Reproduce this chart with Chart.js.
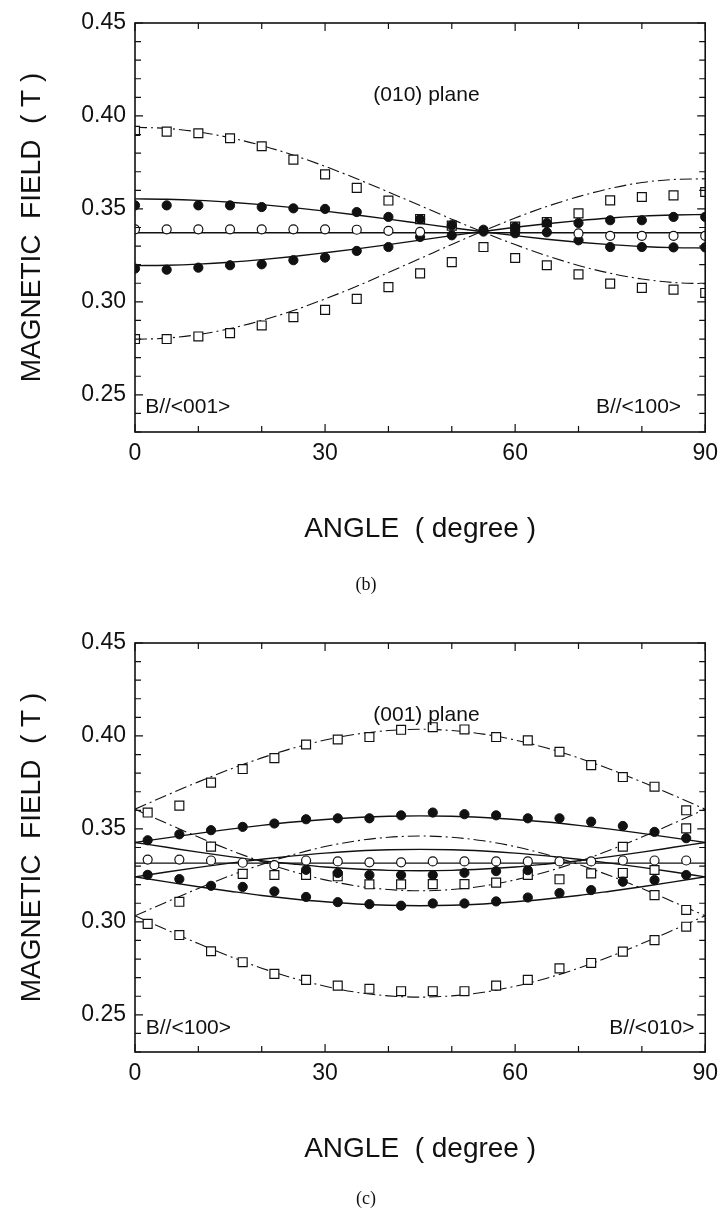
<!DOCTYPE html>
<html>
<head>
<meta charset="utf-8">
<script src="https://cdn.jsdelivr.net/npm/chart.js@4.4.0/dist/chart.umd.min.js"></script>
<style>
  body { margin: 0; background: #fff; width: 726px; height: 1211px; overflow: hidden; position: relative; }
  .panel { position: absolute; left: 0; width: 726px; height: 620px; }
  .cap { position: absolute; width: 60px; margin-left: -30px; text-align: center;
         font-family: "Liberation Serif", "DejaVu Serif", serif; font-size: 18px; color: #111; }
</style>
</head>
<body>
<div class="panel" style="top:0"><canvas id="chartB" width="726" height="620"></canvas></div>
<div class="panel" style="top:620px"><canvas id="chartC" width="726" height="620"></canvas></div>
<div class="cap" style="left:366px; top:574px">(b)</div>
<div class="cap" style="left:366px; top:1188px">(c)</div>
<script>
// ---------- shared axes ----------
const xTicks = [0, 30, 60, 90];
const yTicks = [0.25, 0.30, 0.35, 0.40, 0.45];

// ---------- (b) (010) plane: measured points every 5 deg ----------
const bAngles = [0, 5, 10, 15, 20, 25, 30, 35, 40, 45, 50, 55, 60, 65, 70, 75, 80, 85, 90];
const bSquaresA = [0.3920, 0.3916, 0.3907, 0.3880, 0.3837, 0.3765, 0.3686, 0.3613, 0.3545, 0.3445,
                   0.3410, null, 0.3236, 0.3197, 0.3148, 0.3098, 0.3075, 0.3066, 0.3048];
const bSquaresB = [0.2800, 0.2800, 0.2814, 0.2832, 0.2873, 0.2918, 0.2957, 0.3016, 0.3079, 0.3153,
                   0.3214, 0.3295, 0.3405, 0.3429, 0.3476, 0.3546, 0.3564, 0.3573, 0.3591];
const bFilledHigh = [0.3519, 0.3519, 0.3519, 0.3519, 0.3510, 0.3503, 0.3500, 0.3483, 0.3457, 0.3444,
                     0.3412, 0.3388, 0.3403, 0.3424, 0.3424, 0.3439, 0.3439, 0.3457, 0.3457];
const bFilledLow = [0.3179, 0.3173, 0.3184, 0.3197, 0.3202, 0.3224, 0.3238, 0.3274, 0.3295, 0.3349,
                    0.3358, 0.3378, 0.3369, 0.3374, 0.3331, 0.3295, 0.3295, 0.3293, 0.3293];
const bOpen = [0.3390, 0.3390, 0.3390, 0.3390, 0.3390, 0.3390, 0.3390, 0.3388, 0.3382, 0.3376,
               null, null, null, null, 0.3368, 0.3355, 0.3355, 0.3355, 0.3355];

// (b) fitted curves, read every 5 deg
const bCurveAngles = bAngles;
const bDashA = [0.3939, 0.3933, 0.3914, 0.3883, 0.3841, 0.3789, 0.3729, 0.3662, 0.3591, 0.3518,
                0.3445, 0.3374, 0.3308, 0.3248, 0.3196, 0.3154, 0.3123, 0.3104, 0.3098];
const bDashB = [0.2798, 0.2805, 0.2824, 0.2856, 0.2900, 0.2953, 0.3016, 0.3084, 0.3158, 0.3233,
                0.3309, 0.3382, 0.3451, 0.3513, 0.3566, 0.3610, 0.3642, 0.3658, 0.3662];
const bSolidA = [0.3554, 0.3552, 0.3546, 0.3536, 0.3523, 0.3507, 0.3488, 0.3467, 0.3445, 0.3422,
                 0.3399, 0.3377, 0.3356, 0.3337, 0.3321, 0.3308, 0.3298, 0.3292, 0.3290];
const bSolidB = [0.3195, 0.3197, 0.3203, 0.3213, 0.3227, 0.3244, 0.3264, 0.3285, 0.3308, 0.3332,
                 0.3356, 0.3379, 0.3401, 0.3420, 0.3437, 0.3451, 0.3461, 0.3467, 0.3470];
const bFlatAngles = [0, 90];
const bFlat = [0.3372, 0.3372];

// ---------- (c) (001) plane: measured points every 5 deg from 2 deg ----------
const cAngles = [2, 7, 12, 17, 22, 27, 32, 37, 42, 47, 52, 57, 62, 67, 72, 77, 82, 87];
const cSquaresUpper = [0.3588, 0.3625, 0.3749, 0.3822, 0.3881, 0.3954, 0.3981, 0.3994, 0.4033,
                       0.4047, 0.4035, 0.3994, 0.3976, 0.3915, 0.3843, 0.3779, 0.3727, 0.3600];
const cSquaresLower = [0.2989, 0.2929, 0.2842, 0.2783, 0.2720, 0.2688, 0.2657, 0.2640, 0.2627,
                       0.2627, 0.2627, 0.2657, 0.2688, 0.2750, 0.2779, 0.2840, 0.2902, 0.2974];
const cSquaresMid = [null, 0.3108, 0.3405, 0.3258, 0.3252, 0.3252, 0.3245, 0.3202, 0.3202,
                     0.3203, 0.3203, 0.3211, 0.3252, 0.3229, 0.3261, 0.3263, 0.3279, null];
const cSquaresExtraAngles = [77, 82, 87, 87];
const cSquaresExtra = [0.3404, 0.3144, 0.3503, 0.3064];
const cFilledUpper = [0.3439, 0.3471, 0.3493, 0.3511, 0.3529, 0.3552, 0.3557, 0.3557, 0.3573,
                      0.3588, 0.3579, 0.3573, 0.3557, 0.3557, 0.3539, 0.3516, 0.3484, 0.3450];
const cFilledLower = [0.3253, 0.3230, 0.3194, 0.3188, 0.3164, 0.3134, 0.3106, 0.3095, 0.3087,
                      0.3099, 0.3099, 0.3110, 0.3131, 0.3155, 0.3171, 0.3216, 0.3225, 0.3252];
const cFilledMid = [null, null, null, null, null, 0.3280, 0.3263, 0.3252, 0.3252,
                    0.3252, 0.3264, 0.3273, 0.3278, null, null, null, null, null];
const cOpen = [0.3335, 0.3335, 0.3330, 0.3318, 0.3305, 0.3330, 0.3325, 0.3320, 0.3320,
               0.3325, 0.3325, 0.3325, 0.3325, 0.3325, 0.3325, 0.3330, 0.3330, 0.3330];

// (c) fitted curves, read every 5 deg
const cCurveAngles = [0, 5, 10, 15, 20, 25, 30, 35, 40, 45, 50, 55, 60, 65, 70, 75, 80, 85, 90];
const cDashUpper = [0.3606, 0.3681, 0.3753, 0.3821, 0.3882, 0.3935, 0.3978, 0.4010, 0.4029, 0.4036,
                    0.4029, 0.4010, 0.3978, 0.3935, 0.3882, 0.3821, 0.3753, 0.3681, 0.3606];
const cDashLower = [0.3033, 0.2957, 0.2883, 0.2814, 0.2751, 0.2697, 0.2654, 0.2621, 0.2602, 0.2595,
                    0.2602, 0.2621, 0.2654, 0.2697, 0.2751, 0.2814, 0.2883, 0.2957, 0.3033];
const cDashInnerDown = [0.3606, 0.3530, 0.3456, 0.3386, 0.3324, 0.3270, 0.3226, 0.3193, 0.3174, 0.3167,
                        0.3174, 0.3193, 0.3226, 0.3270, 0.3324, 0.3386, 0.3456, 0.3530, 0.3606];
const cDashInnerUp = [0.3033, 0.3107, 0.3180, 0.3248, 0.3309, 0.3362, 0.3405, 0.3436, 0.3455, 0.3462,
                      0.3455, 0.3436, 0.3405, 0.3362, 0.3309, 0.3248, 0.3180, 0.3107, 0.3033];
const cSolidUpper = [0.3427, 0.3452, 0.3476, 0.3499, 0.3519, 0.3537, 0.3551, 0.3561, 0.3568, 0.3570,
                     0.3568, 0.3561, 0.3551, 0.3537, 0.3519, 0.3499, 0.3476, 0.3452, 0.3427];
const cSolidLower = [0.3242, 0.3215, 0.3189, 0.3165, 0.3142, 0.3123, 0.3108, 0.3096, 0.3089, 0.3087,
                     0.3089, 0.3096, 0.3108, 0.3123, 0.3142, 0.3165, 0.3189, 0.3215, 0.3242];
const cSolidInnerDown = [0.3427, 0.3401, 0.3375, 0.3351, 0.3329, 0.3311, 0.3295, 0.3284, 0.3277, 0.3275,
                         0.3277, 0.3284, 0.3295, 0.3311, 0.3329, 0.3351, 0.3375, 0.3401, 0.3427];
const cSolidInnerUp = [0.3242, 0.3268, 0.3293, 0.3316, 0.3337, 0.3355, 0.3370, 0.3381, 0.3388, 0.3390,
                       0.3388, 0.3381, 0.3370, 0.3355, 0.3337, 0.3316, 0.3293, 0.3268, 0.3242];
const cFlatAngles = [0, 90];
const cFlat = [0.3316, 0.3316];

// ---------- styles ----------
const INK = "#111";
const SANS = '"Liberation Sans", Arial, sans-serif';

function pts(xs, ys) {
  return xs.map((x, i) => ({ x: x, y: ys[i] })).filter(p => p.y !== null);
}

function curve(xs, ys, dashed) {
  return {
    data: pts(xs, ys),
    showLine: true,
    pointRadius: 0,
    borderColor: INK,
    borderWidth: dashed ? 1.1 : 1.4,
    borderDash: dashed ? [12, 4, 2, 4] : [],
    cubicInterpolationMode: "monotone",
    order: 10
  };
}

function marks(xs, ys, kind) {
  const base = { data: pts(xs, ys), showLine: false, borderColor: INK, clip: 0, order: 1 };
  if (kind === "filled") return Object.assign(base, { pointStyle: "circle", pointRadius: 4.6, backgroundColor: INK, borderWidth: 1 });
  if (kind === "open") return Object.assign(base, { pointStyle: "circle", pointRadius: 4.5, backgroundColor: "#fff", borderWidth: 1.2 });
  return Object.assign(base, { pointStyle: "rect", pointRadius: 6.3, backgroundColor: "#fff", borderWidth: 1.2, order: 2 });
}

// frame, inward ticks and in-plot notes
const framePlugin = {
  id: "frame",
  afterDatasetsDraw(chart, args, opts) {
    const { ctx, chartArea: a, scales: { x, y } } = chart;
    ctx.save();
    ctx.strokeStyle = INK;
    ctx.lineWidth = 1.6;
    ctx.strokeRect(a.left, a.top, a.right - a.left, a.bottom - a.top);
    ctx.lineWidth = 1.2;
    ctx.beginPath();
    for (let v = 0; v <= 90; v += 10) {
      const px = x.getPixelForValue(v);
      const len = v % 30 === 0 ? 8 : 6;
      ctx.moveTo(px, a.bottom); ctx.lineTo(px, a.bottom - len);
      ctx.moveTo(px, a.top); ctx.lineTo(px, a.top + len);
    }
    for (let k = 23; k <= 45; k++) {
      const py = y.getPixelForValue(k / 100);
      const len = k % 5 === 0 ? 8 : 6;
      ctx.moveTo(a.left, py); ctx.lineTo(a.left + len, py);
      ctx.moveTo(a.right, py); ctx.lineTo(a.right - len, py);
    }
    ctx.stroke();
    ctx.fillStyle = INK;
    ctx.textBaseline = "middle";
    opts.notes.forEach(n => {
      ctx.font = n.size + "px " + SANS;
      ctx.textAlign = n.align;
      ctx.fillText(n.text, x.getPixelForValue(n.x), y.getPixelForValue(n.y));
    });
    ctx.restore();
  }
};

function makeChart(id, datasets, notes) {
  return new Chart(document.getElementById(id), {
    type: "scatter",
    data: { datasets: datasets },
    plugins: [framePlugin],
    options: {
      responsive: false,
      animation: false,
      events: [],
      layout: { padding: { top: 23, right: 15, bottom: 0, left: 0 } },
      plugins: { legend: { display: false }, tooltip: { enabled: false }, frame: { notes: notes } },
      scales: {
        x: {
          type: "linear", min: 0, max: 90,
          afterBuildTicks: s => { s.ticks = xTicks.map(v => ({ value: v })); },
          afterFit: s => { s.height = 188; },
          grid: { display: false, drawTicks: false },
          border: { display: false },
          ticks: { autoSkip: false, maxRotation: 0, padding: 8, color: INK, font: { family: SANS, size: 23 } },
          title: { display: true, text: "ANGLE  ( degree )", color: INK,
                   font: { family: SANS, size: 28 }, padding: { top: 0, bottom: 74 } }
        },
        y: {
          type: "linear", min: 0.23, max: 0.45,
          afterBuildTicks: s => { s.ticks = yTicks.map(v => ({ value: v })); },
          afterFit: s => { s.width = 135; },
          grid: { display: false, drawTicks: false },
          border: { display: false },
          ticks: { padding: 9, color: INK, font: { family: SANS, size: 23 }, callback: v => v.toFixed(2) },
          title: { display: true, text: "MAGNETIC  FIELD  ( T )", color: INK,
                   font: { family: SANS, size: 28 }, padding: { top: 15, bottom: 0 } }
        }
      }
    }
  });
}

makeChart("chartB", [
  curve(bCurveAngles, bDashA, true),
  curve(bCurveAngles, bDashB, true),
  curve(bCurveAngles, bSolidA, false),
  curve(bCurveAngles, bSolidB, false),
  curve(bFlatAngles, bFlat, false),
  marks(bAngles, bSquaresA, "square"),
  marks(bAngles, bSquaresB, "square"),
  marks(bAngles, bOpen, "open"),
  marks(bAngles, bFilledHigh, "filled"),
  marks(bAngles, bFilledLow, "filled")
], [
  { text: "(010) plane", x: 46, y: 0.411, align: "center", size: 21 },
  { text: "B//<001>", x: 1.6, y: 0.2435, align: "left", size: 21 },
  { text: "B//<100>", x: 86.2, y: 0.2435, align: "right", size: 21 }
]);

makeChart("chartC", [
  curve(cCurveAngles, cDashUpper, true),
  curve(cCurveAngles, cDashLower, true),
  curve(cCurveAngles, cDashInnerDown, true),
  curve(cCurveAngles, cDashInnerUp, true),
  curve(cCurveAngles, cSolidUpper, false),
  curve(cCurveAngles, cSolidLower, false),
  curve(cCurveAngles, cSolidInnerDown, false),
  curve(cCurveAngles, cSolidInnerUp, false),
  curve(cFlatAngles, cFlat, false),
  marks(cAngles, cSquaresUpper, "square"),
  marks(cAngles, cSquaresLower, "square"),
  marks(cAngles, cSquaresMid, "square"),
  marks(cSquaresExtraAngles, cSquaresExtra, "square"),
  marks(cAngles, cOpen, "open"),
  marks(cAngles, cFilledUpper, "filled"),
  marks(cAngles, cFilledLower, "filled"),
  marks(cAngles, cFilledMid, "filled")
], [
  { text: "(001) plane", x: 46, y: 0.411, align: "center", size: 21 },
  { text: "B//<100>", x: 1.7, y: 0.2430, align: "left", size: 21 },
  { text: "B//<010>", x: 88.3, y: 0.2430, align: "right", size: 21 }
]);
</script>
</body>
</html>
